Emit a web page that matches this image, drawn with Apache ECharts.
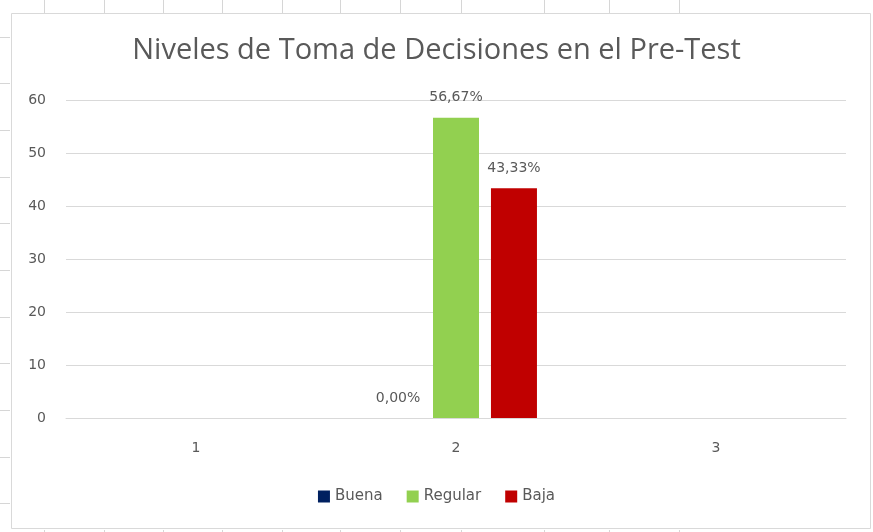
<!DOCTYPE html>
<html>
<head>
<meta charset="utf-8">
<title>Niveles de Toma de Decisiones en el Pre-Test</title>
<script src="https://cdn.jsdelivr.net/npm/echarts@6/dist/echarts.min.js"></script>
<style>
  html, body { margin: 0; padding: 0; background: #fff; }
  #chart { width: 873px; height: 532px; }
</style>
</head>
<body>
<div id="chart"></div>
<script>
// data
var categorias = ['1', '2', '3'];
var buena = ['-', 0, '-'];
var regular = ['-', 56.67, '-'];
var baja = ['-', 43.33, '-'];
var yTicks = [0, 10, 20, 30, 40, 50, 60];

// spreadsheet cell lines behind the chart (decoration only)
var colsX = [44, 104, 163, 222, 282, 340, 400, 461, 544, 609, 679];
var rowsY = [37, 83, 130, 177, 223, 270, 317, 363, 410, 457, 503];

var gris = '#595959';
var fuenteTitulo = '"Open Sans", sans-serif';
var fuente = '"DejaVu Sans", sans-serif';

function etiqueta(p) {
  return p.value.toFixed(2).replace('.', ',') + '%';
}

var deco = [];
colsX.forEach(function (x) {
  deco.push({ type: 'line', shape: { x1: x + 0.5, y1: 0, x2: x + 0.5, y2: 13 }, style: { stroke: '#d6d6d6', lineWidth: 1 } });
  deco.push({ type: 'line', shape: { x1: x + 0.5, y1: 530, x2: x + 0.5, y2: 532 }, style: { stroke: '#d6d6d6', lineWidth: 1 } });
});
rowsY.forEach(function (y) {
  deco.push({ type: 'line', shape: { x1: 0, y1: y + 0.5, x2: 10, y2: y + 0.5 }, style: { stroke: '#d6d6d6', lineWidth: 1 } });
});
deco.push({ type: 'rect', shape: { x: 11.5, y: 13.5, width: 859, height: 515 }, style: { fill: 'none', stroke: '#d9d9d9', lineWidth: 1 } });

function serie(nombre, color, datos) {
  return {
    name: nombre,
    type: 'bar',
    data: datos,
    barWidth: 46,
    barGap: '26%',
    itemStyle: { color: color },
    label: {
      show: true,
      position: 'top',
      distance: 13,
      color: gris,
      fontFamily: fuente,
      fontSize: 14,
      formatter: etiqueta
    }
  };
}

var myChart = echarts.init(document.getElementById('chart'));
var option = {
  backgroundColor: '#fff',
  animation: false,
  graphic: deco,
  title: {
    text: 'Niveles de Toma de Decisiones en el Pre-Test',
    left: 'center',
    top: 31,
    textStyle: { color: gris, fontFamily: fuenteTitulo, fontSize: 29, fontWeight: 'normal' }
  },
  legend: {
    bottom: 23,
    left: 'center',
    icon: 'rect',
    itemWidth: 12,
    itemHeight: 12,
    itemGap: 24,
    textStyle: { color: gris, fontFamily: fuente, fontSize: 15 },
    data: ['Buena', 'Regular', 'Baja']
  },
  grid: { left: 66, right: 27, top: 100, bottom: 114 },
  xAxis: {
    type: 'category',
    data: categorias,
    axisLine: { lineStyle: { color: '#d9d9d9' } },
    axisTick: { show: false },
    axisLabel: { color: gris, fontFamily: fuente, fontSize: 14, margin: 23 }
  },
  yAxis: {
    type: 'value',
    min: yTicks[0],
    max: yTicks[yTicks.length - 1],
    interval: 10,
    axisLine: { show: false },
    axisTick: { show: false },
    axisLabel: { color: gris, fontFamily: fuente, fontSize: 14, margin: 20 },
    splitLine: { lineStyle: { color: '#d9d9d9' } }
  },
  series: [
    serie('Buena', '#002060', buena),
    serie('Regular', '#92D050', regular),
    serie('Baja', '#C00000', baja)
  ]
};
myChart.setOption(option);
</script>
</body>
</html>
